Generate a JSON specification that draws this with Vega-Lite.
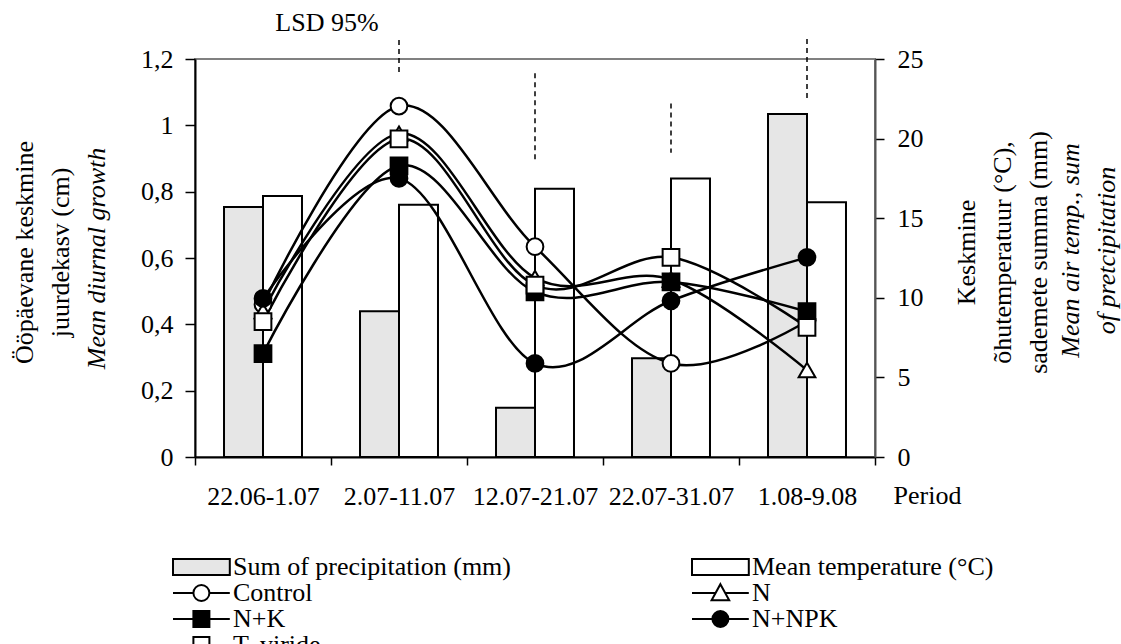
{
  "$schema": "https://vega.github.io/schema/vega-lite/v6.json",
  "width": 680,
  "height": 398,
  "autosize": {"type": "none"},
  "padding": {"left": 195, "top": 59, "right": 246, "bottom": 187},
  "background": "white",
  "config": {
    "font": "Liberation Serif",
    "view": {"stroke": "#808080", "strokeWidth": 2},
    "axis": {
      "labelFont": "Liberation Serif", "labelFontSize": 26, "labelColor": "black",
      "titleFont": "Liberation Serif", "titleFontSize": 26, "titleColor": "black", "titleFontWeight": "normal",
      "grid": false, "domainColor": "black", "tickColor": "black", "domainWidth": 2, "tickWidth": 1.5, "zindex": 1
    }
  },
  "datasets": {
    "growth": [
      {"period": "22.06-1.07", "series": "Control", "growth": 0.46},
      {"period": "2.07-11.07", "series": "Control", "growth": 1.058},
      {"period": "12.07-21.07", "series": "Control", "growth": 0.634},
      {"period": "22.07-31.07", "series": "Control", "growth": 0.282},
      {"period": "1.08-9.08", "series": "Control", "growth": 0.41},
      {"period": "22.06-1.07", "series": "N", "growth": 0.44},
      {"period": "2.07-11.07", "series": "N", "growth": 0.975},
      {"period": "12.07-21.07", "series": "N", "growth": 0.54},
      {"period": "22.07-31.07", "series": "N", "growth": 0.535},
      {"period": "1.08-9.08", "series": "N", "growth": 0.262},
      {"period": "22.06-1.07", "series": "N+K", "growth": 0.312},
      {"period": "2.07-11.07", "series": "N+K", "growth": 0.878},
      {"period": "12.07-21.07", "series": "N+K", "growth": 0.498},
      {"period": "22.07-31.07", "series": "N+K", "growth": 0.528},
      {"period": "1.08-9.08", "series": "N+K", "growth": 0.438},
      {"period": "22.06-1.07", "series": "N+NPK", "growth": 0.478},
      {"period": "2.07-11.07", "series": "N+NPK", "growth": 0.84},
      {"period": "12.07-21.07", "series": "N+NPK", "growth": 0.282},
      {"period": "22.07-31.07", "series": "N+NPK", "growth": 0.471},
      {"period": "1.08-9.08", "series": "N+NPK", "growth": 0.602},
      {"period": "22.06-1.07", "series": "T. viride", "growth": 0.408},
      {"period": "2.07-11.07", "series": "T. viride", "growth": 0.959},
      {"period": "12.07-21.07", "series": "T. viride", "growth": 0.518},
      {"period": "22.07-31.07", "series": "T. viride", "growth": 0.602},
      {"period": "1.08-9.08", "series": "T. viride", "growth": 0.391}
    ],
    "weather": [
      {"period": "22.06-1.07", "measure": "Sum of precipitation (mm)", "value": 15.7},
      {"period": "2.07-11.07", "measure": "Sum of precipitation (mm)", "value": 9.15},
      {"period": "12.07-21.07", "measure": "Sum of precipitation (mm)", "value": 3.1},
      {"period": "22.07-31.07", "measure": "Sum of precipitation (mm)", "value": 6.2},
      {"period": "1.08-9.08", "measure": "Sum of precipitation (mm)", "value": 21.55},
      {"period": "22.06-1.07", "measure": "Mean temperature (°C)", "value": 16.4},
      {"period": "2.07-11.07", "measure": "Mean temperature (°C)", "value": 15.85},
      {"period": "12.07-21.07", "measure": "Mean temperature (°C)", "value": 16.85},
      {"period": "22.07-31.07", "measure": "Mean temperature (°C)", "value": 17.5},
      {"period": "1.08-9.08", "measure": "Mean temperature (°C)", "value": 16.0}
    ],
    "lsd": [
      {"period": "2.07-11.07", "lo": 1.153, "hi": 1.257},
      {"period": "12.07-21.07", "lo": 0.897, "hi": 1.157},
      {"period": "22.07-31.07", "lo": 0.917, "hi": 1.066},
      {"period": "1.08-9.08", "lo": 1.075, "hi": 1.26}
    ]
  },
  "layer": [
    {
      "data": {"name": "weather"},
      "mark": {"type": "bar", "stroke": "black", "strokeWidth": 2},
      "encoding": {
        "x": {
          "field": "period", "type": "nominal",
          "scale": {"domain": ["22.06-1.07", "2.07-11.07", "12.07-21.07", "22.07-31.07", "1.08-9.08"], "paddingInner": 0, "paddingOuter": 0},
          "axis": {
            "title": "Period", "titleX": 698, "titleY": 38, "titleAlign": "left", "titleBaseline": "middle",
            "labelAngle": 0, "tickBand": "extent", "tickSize": 8, "labelPadding": 18, "labelBaseline": "top"
          }
        },
        "xOffset": {"field": "measure", "type": "nominal", "scale": {"domain": ["Sum of precipitation (mm)", "Mean temperature (°C)"], "paddingInner": 0, "paddingOuter": 0.744}},
        "y": {
          "field": "value", "type": "quantitative",
          "scale": {"domain": [0, 25], "nice": false},
          "axis": {
            "orient": "right", "values": [0, 5, 10, 15, 20, 25], "tickSize": 9, "labelPadding": 13, "domainColor": "#555555",
            "title": ["Keskmine", "õhutemperatuur (°C),", "sademete summa (mm)"],
            "titleAngle": 270, "titleX": 91, "titleY": 193, "titleAlign": "center", "titleBaseline": "middle", "titleLineHeight": 36
          }
        },
        "fill": {"field": "measure", "type": "nominal", "scale": {"domain": ["Sum of precipitation (mm)", "Mean temperature (°C)"], "range": ["#e6e6e6", "white"]}, "legend": null}
      }
    },
    {
      "data": {"name": "growth"},
      "layer": [
        {
          "mark": {"type": "line", "interpolate": "cardinal", "stroke": "black", "strokeWidth": 2.5},
          "encoding": {
            "x": {"field": "period", "type": "nominal"},
            "y": {
              "field": "growth", "type": "quantitative",
              "scale": {"domain": [0, 1.2], "nice": false},
              "axis": {
                "orient": "left", "values": [0, 0.2, 0.4, 0.6, 0.8, 1, 1.2],
                "labelExpr": "replace(format(datum.value, '.1~f'), '.', ',')",
                "tickSize": 10, "labelPadding": 12,
                "title": "Mean diurnal growth", "titleFontStyle": "italic",
                "titleAngle": 270, "titleX": -99, "titleY": 199, "titleAlign": "center", "titleBaseline": "middle"
              }
            },
            "detail": {"field": "series"}
          }
        },
        {
          "mark": {"type": "point", "filled": true, "stroke": "black", "strokeWidth": 2, "size": 280, "opacity": 1},
          "encoding": {
            "x": {"field": "period", "type": "nominal"},
            "y": {"field": "growth", "type": "quantitative"},
            "shape": {"field": "series", "type": "nominal", "scale": {"domain": ["Control", "N", "N+K", "N+NPK", "T. viride"], "range": ["circle", "triangle-up", "square", "circle", "square"]}, "legend": null},
            "fill": {"field": "series", "type": "nominal", "scale": {"domain": ["Control", "N", "N+K", "N+NPK", "T. viride"], "range": ["white", "white", "black", "black", "white"]}, "legend": null}
          }
        },
        {
          "data": {"name": "lsd"},
          "mark": {"type": "rule", "strokeDash": [5, 4], "strokeWidth": 1.5, "color": "black"},
          "encoding": {
            "x": {"field": "period", "type": "nominal"},
            "y": {"field": "hi", "type": "quantitative"},
            "y2": {"field": "lo"}
          }
        },
        {
          "data": {"values": [{"label": "LSD 95%"}]},
          "mark": {"type": "text", "fontSize": 26, "baseline": "middle", "align": "center", "color": "black", "font": "Liberation Serif", "dx": -4},
          "encoding": {
            "x": {"datum": "2.07-11.07", "bandPosition": 0},
            "y": {"datum": 1.31},
            "text": {"field": "label"}
          }
        }
      ]
    },
    {
      "data": {"values": [{"v": 0}]},
      "mark": {"type": "rule", "opacity": 0},
      "encoding": {
        "y": {
          "field": "v", "type": "quantitative", "scale": {"domain": [0, 1]},
          "axis": {
            "orient": "left", "labels": false, "ticks": false, "domain": false,
            "title": ["Ööpäevane keskmine", "juurdekasv (cm)"],
            "titleAngle": 270, "titleX": -171, "titleY": 193, "titleAlign": "center", "titleBaseline": "middle", "titleLineHeight": 36
          }
        }
      }
    },
    {
      "data": {"values": [{"v": 0}]},
      "mark": {"type": "rule", "opacity": 0},
      "encoding": {
        "y": {
          "field": "v", "type": "quantitative", "scale": {"domain": [0, 1]},
          "axis": {
            "orient": "right", "labels": false, "ticks": false, "domain": false,
            "title": ["Mean air temp., sum", "of pretcipitation"], "titleFontStyle": "italic",
            "titleAngle": 270, "titleX": 195, "titleY": 191, "titleAlign": "center", "titleBaseline": "middle", "titleLineHeight": 36
          }
        }
      }
    },
    {
      "data": {"name": "growth"},
      "mark": {"type": "point", "filled": true, "opacity": 0, "strokeWidth": 2},
      "encoding": {
        "x": {"field": "period", "type": "nominal"},
        "y": {"field": "growth", "type": "quantitative", "axis": null},
        "shape": {
          "field": "series", "type": "nominal",
          "scale": {
            "domain": ["Sum of precipitation (mm)", "Mean temperature (°C)", "Control", "N", "N+K", "N+NPK", "T. viride"],
            "range": [
              "M-1,-1H6.1V1H-1Z",
              "M-1,-1H6.1V1H-1Z",
              "M-1,0H1.55M3.55,0H6.1M3.55,0A1,1,0,1,1,1.55,0A1,1,0,1,1,3.55,0Z",
              "M-1,0H1.95M3.15,0H6.1M2.55,-1.1L3.65,0.9L1.45,0.9Z",
              "M-1,0H1.55M3.55,0H6.1M1.55,-1H3.55V1H1.55Z",
              "M-1,0H1.55M3.55,0H6.1M3.55,0A1,1,0,1,1,1.55,0A1,1,0,1,1,3.55,0Z",
              "M-1,0H1.55M3.55,0H6.1M1.55,-1H3.55V1H1.55Z"
            ]
          },
          "legend": {
            "title": null, "orient": "none", "legendX": -27, "legendY": 495, "columns": 2, "direction": "horizontal", "columnPadding": 175, "rowPadding": -2,
            "labelFont": "Liberation Serif", "labelFontSize": 26, "labelColor": "black", "labelLimit": 500, "labelOffset": 39,
            "symbolSize": 256, "symbolStrokeColor": "black", "symbolStrokeWidth": 2, "symbolOpacity": 1, "padding": 0
          }
        },
        "fill": {
          "field": "series", "type": "nominal",
          "scale": {
            "domain": ["Sum of precipitation (mm)", "Mean temperature (°C)", "Control", "N", "N+K", "N+NPK", "T. viride"],
            "range": ["#e6e6e6", "white", "white", "white", "black", "black", "white"]
          },
          "legend": {
            "title": null, "orient": "none", "legendX": -27, "legendY": 495, "columns": 2, "direction": "horizontal", "columnPadding": 175, "rowPadding": -2,
            "labelFont": "Liberation Serif", "labelFontSize": 26, "labelColor": "black", "labelLimit": 500, "labelOffset": 39,
            "symbolSize": 256, "symbolStrokeColor": "black", "symbolStrokeWidth": 2, "symbolOpacity": 1, "padding": 0
          }
        },
        "stroke": {
          "field": "series", "type": "nominal",
          "scale": {
            "domain": ["Sum of precipitation (mm)", "Mean temperature (°C)", "Control", "N", "N+K", "N+NPK", "T. viride"],
            "range": ["black", "black", "black", "black", "black", "black", "black"]
          },
          "legend": {
            "title": null, "orient": "none", "legendX": -27, "legendY": 495, "columns": 2, "direction": "horizontal", "columnPadding": 175, "rowPadding": -2,
            "labelFont": "Liberation Serif", "labelFontSize": 26, "labelColor": "black", "labelLimit": 500, "labelOffset": 39,
            "symbolSize": 256, "symbolStrokeColor": "black", "symbolStrokeWidth": 2, "symbolOpacity": 1, "padding": 0
          }
        }
      }
    }
  ],
  "resolve": {"scale": {"y": "independent", "fill": "independent", "shape": "independent", "stroke": "independent"}}
}
